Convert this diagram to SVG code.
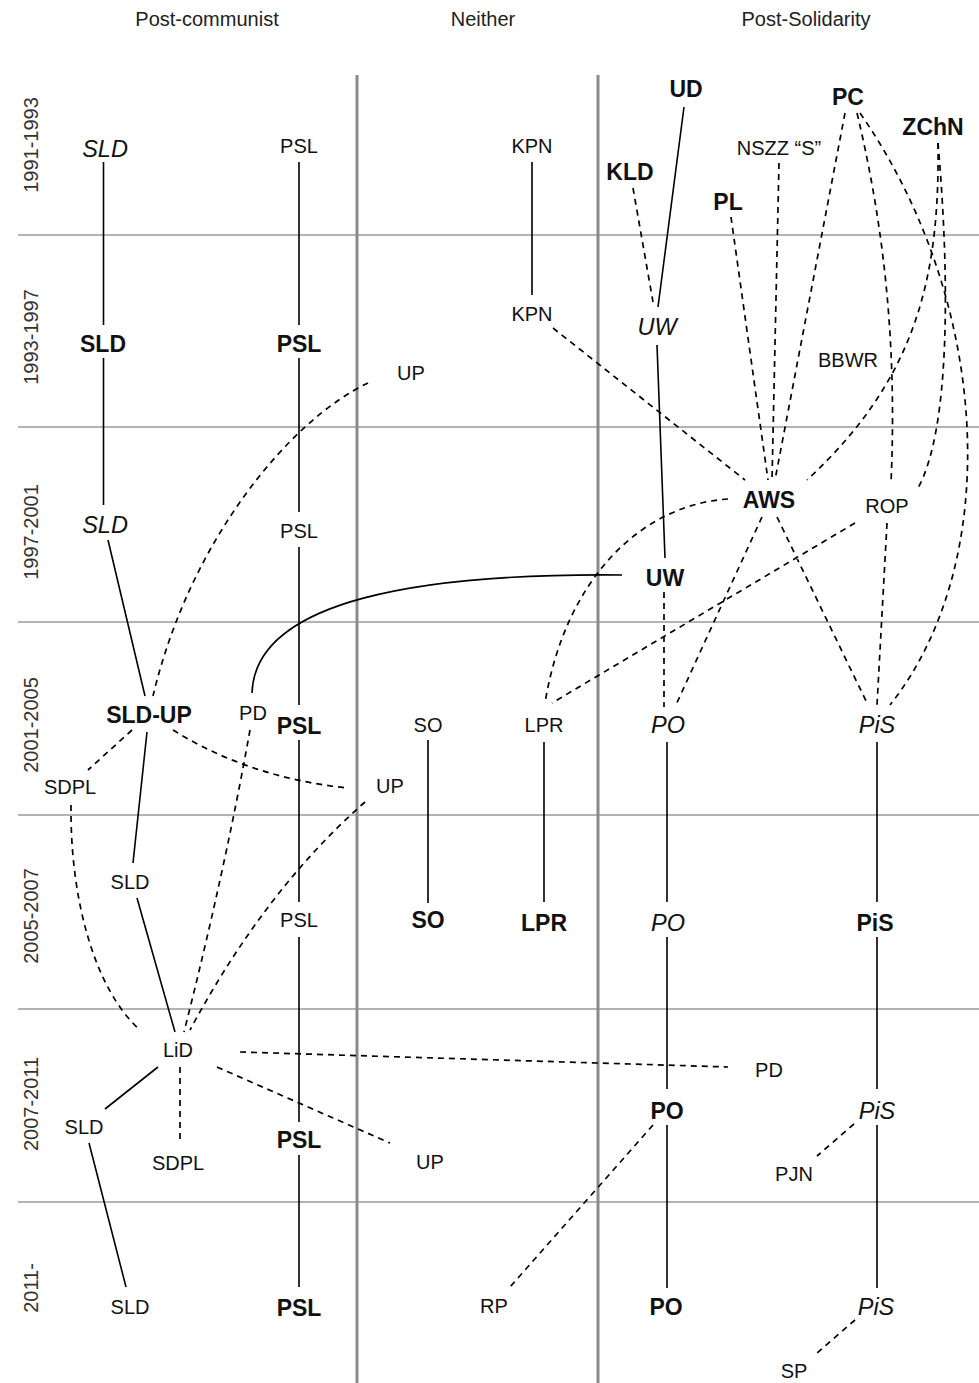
<svg xmlns="http://www.w3.org/2000/svg" width="979" height="1383" viewBox="0 0 979 1383">
<style>
text{font-family:"Liberation Sans",Arial,sans-serif;text-anchor:middle;fill:#111}
.h{font-size:20px;fill:#222}
.y{font-size:20px;fill:#333}
.n{font-size:20px}
.b{font-size:23px;font-weight:bold}
.i{font-size:23.5px;font-style:italic}
.g{stroke:#9a9a9a;stroke-width:1.5;fill:none}
.v{stroke:#8a8a8a;stroke-width:3;fill:none}
.s{stroke:#000;stroke-width:1.6;fill:none}
.d{stroke:#000;stroke-width:1.7;fill:none;stroke-dasharray:6 5}
</style>
<rect width="979" height="1383" fill="#fff"/>
<g id="grid">
<path class="g" d="M18,235H979M18,427H979M18,622H979M18,815H979M18,1009H979M18,1202H979"/>
<path class="v" d="M357,75V1383M598,75V1383"/>
</g>
<g id="headers">
<text class="h" x="207" y="26">Post-communist</text>
<text class="h" x="483" y="26">Neither</text>
<text class="h" x="806" y="26">Post-Solidarity</text>
</g>
<g id="periods">
<text class="y" transform="translate(38,145) rotate(-90)">1991-1993</text>
<text class="y" transform="translate(38,337) rotate(-90)">1993-1997</text>
<text class="y" transform="translate(38,532) rotate(-90)">1997-2001</text>
<text class="y" transform="translate(38,725) rotate(-90)">2001-2005</text>
<text class="y" transform="translate(38,916) rotate(-90)">2005-2007</text>
<text class="y" transform="translate(38,1104) rotate(-90)">2007-2011</text>
<text class="y" transform="translate(38,1288) rotate(-90)">2011-</text>
</g>
<g id="connectors">
<path class="s" d="M103.5,162V325M103.5,358V505M108,540L145,696M147,732L133,863M137,898L175,1032M158,1067L105,1109M89,1143L126,1287"/>
<path class="s" d="M299,162V325M299,358V512M299,547V705M299,740V902M299,937V1122M299,1155V1287"/>
<path class="s" d="M532,162V295M684,107L658,307M657,345L665,558"/>
<path class="s" d="M622,575C420,573 255,600 252,693"/>
<path class="s" d="M428,740V903M544,742V902"/>
<path class="s" d="M667,742V902M667,937V1089M667,1125V1288M877,742V902M877,937V1089M877,1125V1288"/>
<path class="d" d="M633,188L653,302M553,328L745,480M731,217L768,480M779,163L772,480M845,113L775,480"/>
<path class="d" d="M938,143C940,280 915,380 807,480"/>
<path class="d" d="M938,143C950,280 950,430 918,488"/>
<path class="d" d="M857,113C885,230 897,350 891,483"/>
<path class="d" d="M860,113C990,300 1005,560 890,705"/>
<path class="d" d="M368,383C290,420 190,540 153,696"/>
<path class="d" d="M728,499C640,505 565,580 545,703"/>
<path class="d" d="M855,523L552,703M664,592V707M762,517L675,707M777,517L868,705M887,523L877,705"/>
<path class="d" d="M132,730L88,770"/>
<path class="d" d="M173,730Q250,778 348,788"/>
<path class="d" d="M250,730Q225,870 184,1032"/>
<path class="d" d="M365,802Q265,890 190,1030"/>
<path class="d" d="M71,805C70,900 95,990 140,1030"/>
<path class="d" d="M240,1052L728,1067M217,1067L390,1143M180,1067V1143"/>
<path class="d" d="M653,1125L510,1287M854,1124L817,1156M855,1320L817,1353"/>
</g>
<g id="n-sld-1991"><text class="i" x="105" y="157">SLD</text></g>
<g id="n-psl-1991"><text class="n" x="299" y="153">PSL</text></g>
<g id="n-kpn-1991"><text class="n" x="532" y="153">KPN</text></g>
<g id="n-ud"><text class="b" x="686" y="97">UD</text></g>
<g id="n-kld"><text class="b" x="630" y="180">KLD</text></g>
<g id="n-pl"><text class="b" x="728" y="210">PL</text></g>
<g id="n-nszz"><text class="n" x="779" y="155">NSZZ “S”</text></g>
<g id="n-pc"><text class="b" x="848" y="105">PC</text></g>
<g id="n-zchn"><text class="b" x="933" y="135">ZChN</text></g>
<g id="n-sld-1993"><text class="b" x="103" y="352">SLD</text></g>
<g id="n-psl-1993"><text class="b" x="299" y="352">PSL</text></g>
<g id="n-up-1993"><text class="n" x="411" y="380">UP</text></g>
<g id="n-kpn-1993"><text class="n" x="532" y="321">KPN</text></g>
<g id="n-uw-1993"><text class="i" x="657" y="335">UW</text></g>
<g id="n-bbwr"><text class="n" x="848" y="367">BBWR</text></g>
<g id="n-sld-1997"><text class="i" x="105" y="533">SLD</text></g>
<g id="n-psl-1997"><text class="n" x="299" y="538">PSL</text></g>
<g id="n-aws"><text class="b" x="769" y="508">AWS</text></g>
<g id="n-rop"><text class="n" x="887" y="513">ROP</text></g>
<g id="n-uw-1997"><text class="b" x="665" y="586">UW</text></g>
<g id="n-sldup"><text class="b" x="149" y="723">SLD-UP</text></g>
<g id="n-pd-2001"><text class="n" x="253" y="720">PD</text></g>
<g id="n-psl-2001"><text class="b" x="299" y="734">PSL</text></g>
<g id="n-so-2001"><text class="n" x="428" y="732">SO</text></g>
<g id="n-lpr-2001"><text class="n" x="544" y="732">LPR</text></g>
<g id="n-po-2001"><text class="i" x="668" y="733">PO</text></g>
<g id="n-pis-2001"><text class="i" x="877" y="733">PiS</text></g>
<g id="n-sdpl-2001"><text class="n" x="70" y="794">SDPL</text></g>
<g id="n-up-2001"><text class="n" x="390" y="793">UP</text></g>
<g id="n-sld-2005"><text class="n" x="130" y="889">SLD</text></g>
<g id="n-psl-2005"><text class="n" x="299" y="927">PSL</text></g>
<g id="n-so-2005"><text class="b" x="428" y="928">SO</text></g>
<g id="n-lpr-2005"><text class="b" x="544" y="931">LPR</text></g>
<g id="n-po-2005"><text class="i" x="668" y="931">PO</text></g>
<g id="n-pis-2005"><text class="b" x="875" y="931">PiS</text></g>
<g id="n-lid"><text class="n" x="178" y="1057">LiD</text></g>
<g id="n-pd-2007"><text class="n" x="769" y="1077">PD</text></g>
<g id="n-sld-2007"><text class="n" x="84" y="1134">SLD</text></g>
<g id="n-sdpl-2007"><text class="n" x="178" y="1170">SDPL</text></g>
<g id="n-psl-2007"><text class="b" x="299" y="1148">PSL</text></g>
<g id="n-up-2007"><text class="n" x="430" y="1169">UP</text></g>
<g id="n-po-2007"><text class="b" x="667" y="1119">PO</text></g>
<g id="n-pis-2007"><text class="i" x="877" y="1119">PiS</text></g>
<g id="n-pjn"><text class="n" x="794" y="1181">PJN</text></g>
<g id="n-sld-2011"><text class="n" x="130" y="1314">SLD</text></g>
<g id="n-psl-2011"><text class="b" x="299" y="1316">PSL</text></g>
<g id="n-rp"><text class="n" x="494" y="1313">RP</text></g>
<g id="n-po-2011"><text class="b" x="666" y="1315">PO</text></g>
<g id="n-pis-2011"><text class="i" x="876" y="1315">PiS</text></g>
<g id="n-sp"><text class="n" x="794" y="1378">SP</text></g>
</svg>
